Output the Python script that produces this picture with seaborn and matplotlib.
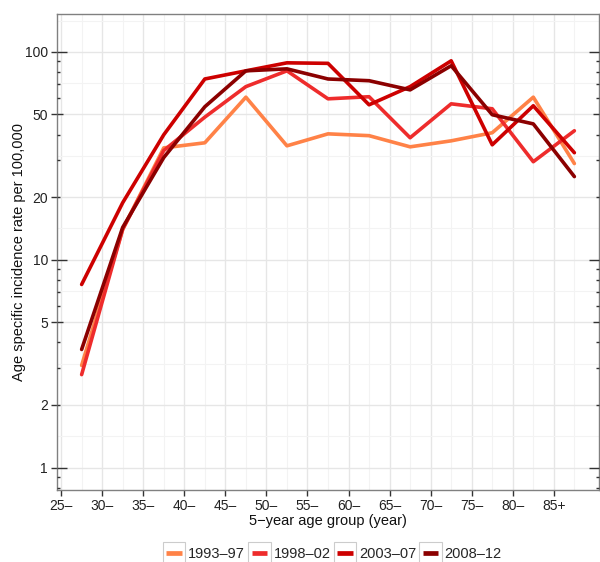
import numpy as np
import pandas as pd
import matplotlib
matplotlib.use("Agg")
import matplotlib.pyplot as plt
import matplotlib.transforms as mtransforms
from matplotlib.patches import Rectangle
from matplotlib.legend_handler import HandlerLine2D
import seaborn as sns

# ---- data ----
age_mid = [27.5, 32.5, 37.5, 42.5, 47.5, 52.5, 57.5, 62.5, 67.5, 72.5, 77.5, 82.5, 87.5]
periods = ["1993–97", "1998–02", "2003–07", "2008–12"]
rate_1993_97 = [3.1, 14.0, 34.5, 36.5, 60.5, 35.3, 40.3, 39.5, 34.9, 37.3, 40.8, 60.5, 29.0]
rate_1998_02 = [2.8, 14.0, 33.5, 48.5, 68.0, 81.0, 59.4, 60.8, 38.6, 56.2, 53.2, 29.6, 41.7]
rate_2003_07 = [7.6, 18.8, 39.9, 74.0, 81.0, 88.5, 88.0, 55.6, 68.0, 90.5, 35.7, 55.0, 32.7]
rate_2008_12 = [3.7, 14.3, 31.0, 54.4, 81.0, 82.8, 74.0, 72.6, 65.6, 85.7, 49.8, 45.0, 25.1]
colors = ["#FF8247", "#EE2C2C", "#CD0000", "#8B0000"]
x_ticks = [25, 30, 35, 40, 45, 50, 55, 60, 65, 70, 75, 80, 85]
x_ticklabels = ["25–", "30–", "35–", "40–", "45–", "50–", "55–", "60–", "65–", "70–", "75–", "80–", "85+"]
y_ticks = [1, 2, 5, 10, 20, 50, 100]
y_ticklabels = ["1", "2", "5", "10", "20", "50", "100"]

series = [rate_1993_97, rate_1998_02, rate_2003_07, rate_2008_12]
df = pd.DataFrame({
    "age": np.tile(age_mid, len(periods)),
    "rate": np.concatenate(series),
    "period": np.repeat(periods, len(age_mid)),
})

sns.set_theme(style="white")
plt.rcParams["font.family"] = ["Liberation Sans", "DejaVu Sans"]

fig = plt.figure(figsize=(6.0, 5.62), dpi=100)
ax = fig.add_axes([57 / 600, 72 / 562, 542 / 600, 476 / 562])

ax.set_yscale("log")
ax.set_xlim(24.5, 90.5)
ax.set_ylim(0.78, 152)

# grid lines (major + minor)
for xv in x_ticks:
    ax.axvline(xv, color="#E6E6E6", lw=1.0, zorder=0)
for xv in age_mid:
    ax.axvline(xv, color="#F3F3F3", lw=0.8, zorder=0)
for yv in y_ticks:
    ax.axhline(yv, color="#E6E6E6", lw=1.0, zorder=0)
for a, b in zip(np.log10(y_ticks[:-1]), np.log10(y_ticks[1:])):
    ax.axhline(10 ** ((a + b) / 2), color="#F3F3F3", lw=0.8, zorder=0)
ax.axhline(10 ** ((2 + np.log10(200)) / 2), color="#F3F3F3", lw=0.8, zorder=0)

sns.lineplot(data=df, x="age", y="rate", hue="period", hue_order=periods,
             palette=colors, lw=2.6, ax=ax, legend=True, zorder=3)

ax.set_xticks(x_ticks)
ax.set_xticklabels(x_ticklabels)
ax.set_yticks(y_ticks)
ax.set_yticklabels(y_ticklabels)
ax.yaxis.set_minor_locator(matplotlib.ticker.NullLocator())
ax.tick_params(axis="both", which="major", direction="out", length=4.5, width=1.0,
               color="#333333", labelsize=10, labelcolor="#222222", pad=2)
ax.tick_params(axis="y", left=True, right=False)
ax.tick_params(axis="x", bottom=True)

for sp in ax.spines.values():
    sp.set_color("#808080")
    sp.set_linewidth(1.0)

# annotation log ticks (inside, left and right)
tl = mtransforms.blended_transform_factory(ax.transAxes, ax.transData)
for dec in [0.1, 1, 10, 100]:
    for m in range(1, 10):
        v = m * dec
        if v < 0.78 or v > 152:
            continue
        L = 0.019 if m == 1 else (0.011 if m == 5 else 0.006)
        for x0, x1 in [(0, L), (1 - L, 1)]:
            ax.plot([x0, x1], [v, v], transform=tl, color="#333333",
                    lw=1.0, clip_on=False, zorder=4, solid_capstyle="butt")

ax.set_xlabel("5−year age group (year)", fontsize=10.5, color="#111111", labelpad=1)
ax.set_ylabel("Age specific incidence rate per 100,000", fontsize=10.5,
              color="#111111", labelpad=-1)


class BoxedLine(HandlerLine2D):
    def create_artists(self, legend, orig_handle, xdescent, ydescent,
                       width, height, fontsize, trans):
        box = Rectangle((-xdescent - 1, -ydescent - 4), width + 2, height + 8,
                        facecolor="white", edgecolor="#CCCCCC", lw=0.8,
                        transform=trans)
        y = -ydescent + height / 2
        ln = matplotlib.lines.Line2D([-xdescent + 1.5, -xdescent + width - 1.5], [y, y],
                                     color=orig_handle.get_color(), lw=3.4,
                                     solid_capstyle="butt", transform=trans)
        return [box, ln]


handles, labels = ax.get_legend_handles_labels()
ax.get_legend().remove()
leg = fig.legend(handles, labels, loc="center", bbox_to_anchor=(333 / 600, 1 - 554 / 562),
                 ncol=4, frameon=False, fontsize=10.5, handlelength=1.35,
                 handletextpad=0.3, columnspacing=0.3,
                 handler_map={matplotlib.lines.Line2D: BoxedLine()})

fig.savefig("out.png", dpi=100)
